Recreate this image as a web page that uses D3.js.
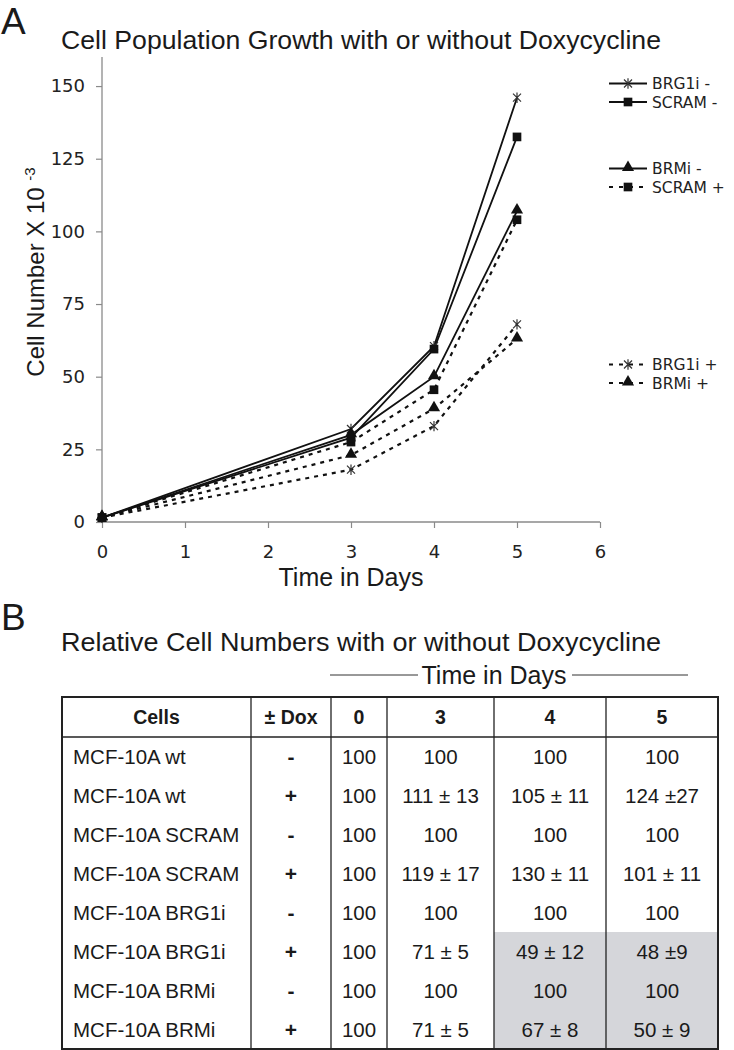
<!DOCTYPE html>
<html>
<head>
<meta charset="utf-8">
<script src="https://cdn.jsdelivr.net/npm/d3@7"></script>
<style>
  html, body { margin: 0; padding: 0; background: #fff; }
  svg { display: block; }
</style>
</head>
<body>
<svg id="chart" width="734" height="1050"></svg>
<script>
// ---------------- DATA ----------------
const days = [0, 3, 4, 5];
const seriesNames = ["BRG1i -", "SCRAM -", "BRMi -", "SCRAM +", "BRG1i +", "BRMi +"];
const brg1iMinus = [1.5, 32, 60.5, 146];
const scramMinus = [1.5, 29, 59.5, 132.5];
const brmiMinus  = [1.5, 30, 50, 107];
const scramPlus  = [1.5, 27.5, 45.5, 104];
const brg1iPlus  = [1.5, 18, 33, 68];
const brmiPlus   = [1.5, 23, 39, 63];
const xTicks = [0, 1, 2, 3, 4, 5, 6];
const yTicks = [0, 25, 50, 75, 100, 125, 150];

const tableHeaders = ["Cells", "± Dox", "0", "3", "4", "5"];
const cellLines = ["MCF-10A wt", "MCF-10A wt", "MCF-10A SCRAM", "MCF-10A SCRAM",
                   "MCF-10A BRG1i", "MCF-10A BRG1i", "MCF-10A BRMi", "MCF-10A BRMi"];
const doxSigns = ["-", "+", "-", "+", "-", "+", "-", "+"];
const day0Vals = ["100", "100", "100", "100", "100", "100", "100", "100"];
const day3Vals = ["100", "111 ± 13", "100", "119 ± 17", "100", "71 ± 5", "100", "71 ± 5"];
const day4Vals = ["100", "105 ± 11", "100", "130 ± 11", "100", "49 ± 12", "100", "67 ± 8"];
const day5Vals = ["100", "124 ±27", "100", "101 ± 11", "100", "48 ±9", "100", "50 ± 9"];
const highlighted = [false, false, false, false, false, true, true, true];

// ---------------- SETUP ----------------
const svg = d3.select("#chart");
const ink = "#1a1a1a";
const sans = "'Liberation Sans', Arial, sans-serif";
const verd = "'DejaVu Sans', Verdana, sans-serif";

// Panel letters
svg.append("text").attr("x", 1).attr("y", 34).attr("font-family", sans)
  .attr("font-size", 37).attr("fill", ink).text("A");
svg.append("text").attr("x", 1).attr("y", 630).attr("font-family", sans)
  .attr("font-size", 37).attr("fill", ink).text("B");

// ---------------- PANEL A ----------------
const plot = { left: 102, right: 600, top: 57, bottom: 522 };
const x = d3.scaleLinear().domain([0, 6]).range([plot.left, plot.right]);
const y = d3.scaleLinear().domain([0, 160]).range([plot.bottom, plot.top]);

svg.append("text").attr("x", 361).attr("y", 49).attr("text-anchor", "middle")
  .attr("font-family", sans).attr("font-size", 25.5).attr("fill", ink)
  .attr("textLength", 600).attr("lengthAdjust", "spacingAndGlyphs")
  .text("Cell Population Growth with or without Doxycycline");

const axisColor = "#8a8a8a";
const gx = svg.append("g").attr("transform", `translate(0,${plot.bottom})`)
  .call(d3.axisBottom(x).tickValues(xTicks).tickSize(6).tickPadding(17).tickFormat(d3.format("d")));
const gy = svg.append("g").attr("transform", `translate(${plot.left},0)`)
  .call(d3.axisLeft(y).tickValues(yTicks).tickSize(6).tickPadding(11).tickFormat(d3.format("d")));
[gx, gy].forEach(g => {
  g.select(".domain").attr("stroke", axisColor).attr("stroke-width", 1.3);
  g.selectAll(".tick line").attr("stroke", axisColor).attr("stroke-width", 1.2);
  g.selectAll(".tick text").attr("font-family", verd).attr("font-size", 18).attr("fill", "#222");
});
gy.select(".domain").attr("d", `M-0,${plot.bottom}V${plot.top}`);
gx.select(".domain").attr("d", `M${plot.left},0H${plot.right}`);

svg.append("text").attr("x", (plot.left + plot.right) / 2).attr("y", 586)
  .attr("text-anchor", "middle").attr("font-family", sans).attr("font-size", 25)
  .attr("fill", ink).text("Time in Days");

const yTitle = svg.append("text")
  .attr("transform", "translate(44,272) rotate(-90)")
  .attr("text-anchor", "middle").attr("font-family", sans).attr("font-size", 24).attr("fill", ink);
yTitle.append("tspan").text("Cell Number X 10 ");
yTitle.append("tspan").attr("font-size", 15).attr("dy", -9).text("-3");

// markers
const starPath = s => `M${-s},${-s}L${s},${s}M${-s},${s}L${s},${-s}M0,${-s * 1.3}L0,${s * 1.3}`;
function drawMarker(g, type, cx, cy) {
  if (type === "star") {
    g.append("path").attr("d", starPath(4)).attr("transform", `translate(${cx},${cy})`)
      .attr("stroke", "#333").attr("stroke-width", 1.2).attr("fill", "none");
  } else if (type === "square") {
    g.append("path").attr("d", d3.symbol(d3.symbolSquare, 75)()).attr("transform", `translate(${cx},${cy})`)
      .attr("fill", "#111");
  } else {
    g.append("path").attr("d", d3.symbol(d3.symbolTriangle, 64)()).attr("transform", `translate(${cx},${cy - 1})`)
      .attr("fill", "#111");
  }
}

const seriesValues = [brg1iMinus, scramMinus, brmiMinus, scramPlus, brg1iPlus, brmiPlus];
const seriesMarkers = ["star", "square", "triangle", "square", "star", "triangle"];
const seriesDashed = [false, false, false, true, true, true];

const line = d3.line().x(d => x(d[0])).y(d => y(d[1]));
const gLines = svg.append("g");
const order = [3, 4, 5, 0, 1, 2];
order.forEach(i => {
  const pts = days.map((d, j) => [d, seriesValues[i][j]]);
  gLines.append("path").attr("d", line(pts)).attr("fill", "none")
    .attr("stroke", "#111").attr("stroke-width", seriesDashed[i] ? 2.2 : 1.8)
    .attr("stroke-dasharray", seriesDashed[i] ? "4,5" : null);
});
order.forEach(i => {
  days.forEach((d, j) => drawMarker(gLines, seriesMarkers[i], x(d), y(seriesValues[i][j])));
});

// legend
const legendY = [83.5, 102, 168.5, 187, 364.5, 383];
const legend = svg.append("g");
seriesNames.forEach((name, i) => {
  const ly = legendY[i];
  legend.append("line").attr("x1", 609).attr("x2", 647).attr("y1", ly).attr("y2", ly)
    .attr("stroke", "#111").attr("stroke-width", seriesDashed[i] ? 2 : 1.8)
    .attr("stroke-dasharray", seriesDashed[i] ? "4,6" : null);
  drawMarker(legend, seriesMarkers[i], 628, ly);
  legend.append("text").attr("x", 652).attr("y", ly).attr("dy", "0.36em")
    .attr("font-family", verd).attr("font-size", 15.5).attr("fill", "#222").text(name);
});

// ---------------- PANEL B ----------------
svg.append("text").attr("x", 361).attr("y", 651).attr("text-anchor", "middle")
  .attr("font-family", sans).attr("font-size", 25).attr("fill", ink)
  .attr("textLength", 600).attr("lengthAdjust", "spacingAndGlyphs")
  .text("Relative Cell Numbers with or without Doxycycline");

svg.append("text").attr("x", 494).attr("y", 684).attr("text-anchor", "middle")
  .attr("font-family", sans).attr("font-size", 25).attr("fill", ink).text("Time in Days");
svg.append("line").attr("x1", 330).attr("x2", 418).attr("y1", 675).attr("y2", 675)
  .attr("stroke", "#333").attr("stroke-width", 1);
svg.append("line").attr("x1", 572).attr("x2", 688).attr("y1", 675).attr("y2", 675)
  .attr("stroke", "#333").attr("stroke-width", 1);

const table = { left: 62, right: 718, top: 697, headerBottom: 737, bottom: 1049 };
const colEdges = [table.left, 251, 331, 387, 494, 606, table.right];
const rowBand = d3.scaleBand().domain(d3.range(cellLines.length))
  .range([table.headerBottom, table.bottom]);

const gT = svg.append("g");
highlighted.forEach((h, r) => {
  if (!h) return;
  gT.append("rect").attr("x", colEdges[4]).attr("y", rowBand(r))
    .attr("width", colEdges[6] - colEdges[4]).attr("height", rowBand.bandwidth())
    .attr("fill", "#d5d6da");
});
tableHeaders.forEach((h, c) => {
  gT.append("text").attr("x", (colEdges[c] + colEdges[c + 1]) / 2)
    .attr("y", (table.top + table.headerBottom) / 2).attr("dy", "0.36em")
    .attr("text-anchor", "middle").attr("font-family", sans).attr("font-weight", "bold")
    .attr("font-size", 19.5).attr("fill", ink).text(h);
});
const columns = [cellLines, doxSigns, day0Vals, day3Vals, day4Vals, day5Vals];
columns.forEach((col, c) => {
  col.forEach((v, r) => {
    const t = gT.append("text")
      .attr("y", rowBand(r) + rowBand.bandwidth() / 2).attr("dy", "0.36em")
      .attr("font-family", sans).attr("font-size", 20.5).attr("fill", ink).text(v);
    if (c === 0) t.attr("x", colEdges[0] + 11);
    else t.attr("x", (colEdges[c] + colEdges[c + 1]) / 2).attr("text-anchor", "middle");
    if (c === 1) t.attr("font-weight", "bold").attr("font-size", 21);
  });
});
for (let c = 1; c < colEdges.length - 1; c++) {
  gT.append("line").attr("x1", colEdges[c]).attr("x2", colEdges[c])
    .attr("y1", table.top).attr("y2", table.bottom).attr("stroke", "#222").attr("stroke-width", 1.3);
}
gT.append("line").attr("x1", table.left).attr("x2", table.right)
  .attr("y1", table.headerBottom).attr("y2", table.headerBottom).attr("stroke", "#222").attr("stroke-width", 1.5);
gT.append("rect").attr("x", table.left).attr("y", table.top)
  .attr("width", table.right - table.left).attr("height", table.bottom - table.top)
  .attr("fill", "none").attr("stroke", "#222").attr("stroke-width", 2);
</script>
</body>
</html>
